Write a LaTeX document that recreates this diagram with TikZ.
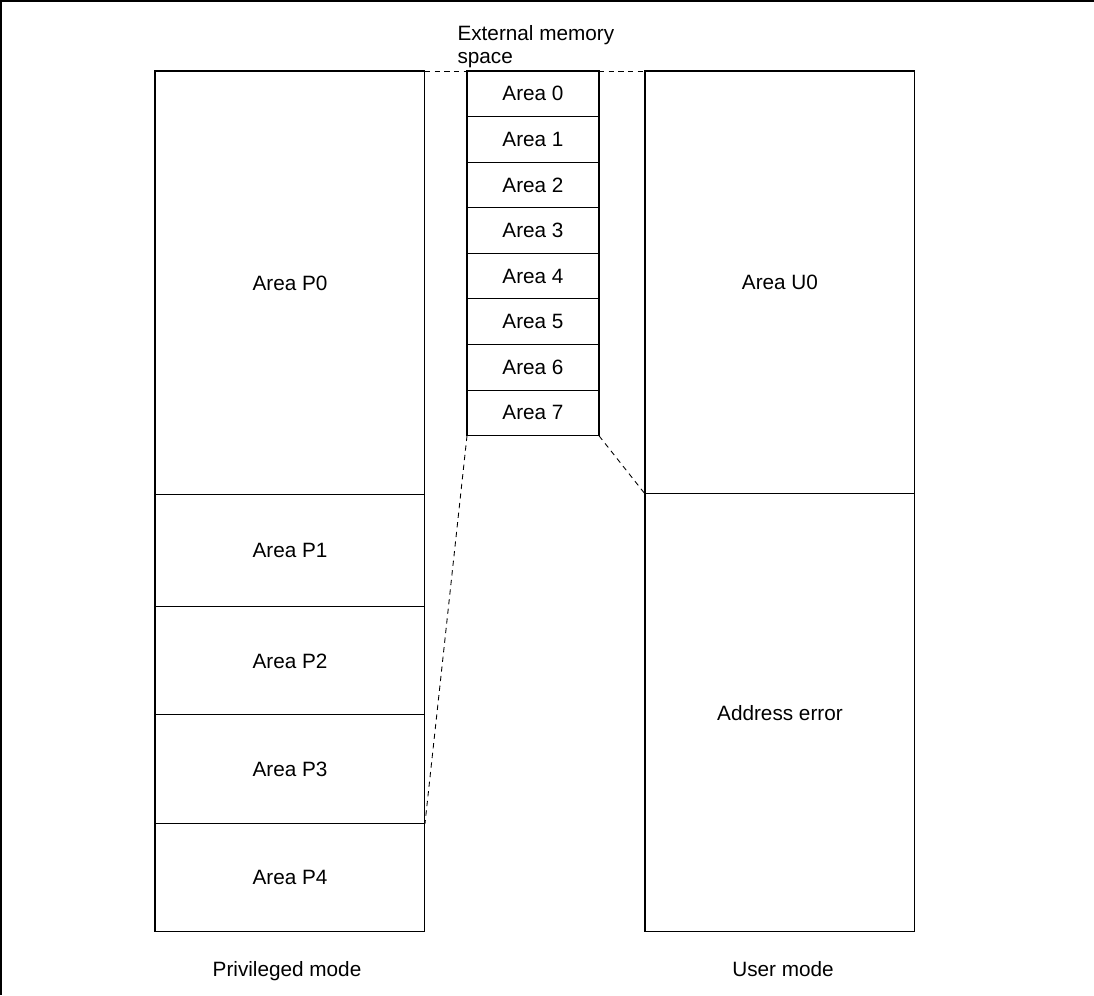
\documentclass[tikz,border=0pt]{standalone}
\usepackage{fontspec}
\setmainfont{Liberation Sans}
\usetikzlibrary{positioning}

\begin{document}
\begin{tikzpicture}[x=0.02cm,y=-0.02cm,line width=0.6pt,
    area/.style={rectangle,draw,outer sep=0pt,inner sep=0pt,font=\fontsize{11.8}{12}\selectfont},
    big/.style={area,minimum width=5.4cm},
    small/.style={area,minimum width=2.64cm,minimum height=0.912cm},
    caption/.style={font=\fontsize{11.8}{12.8}\selectfont,inner sep=0pt},
    link/.style={dash pattern=on 3pt off 2.5pt,line width=0.5pt}]

  \useasboundingbox (0,0) rectangle (1094,995);
  \draw (1,995) -- (1,1) -- (1094,1);

  % privileged mode
  \node[big,minimum height=8.48cm,anchor=north west] (p0) at (155,71) {Area P0};
  \node[big,minimum height=2.24cm] (p1) [below=0pt of p0] {Area P1};
  \node[big,minimum height=2.16cm] (p2) [below=0pt of p1] {Area P2};
  \node[big,minimum height=2.18cm] (p3) [below=0pt of p2] {Area P3};
  \node[big,minimum height=2.16cm] (p4) [below=0pt of p3] {Area P4};

  % external memory
  \node[small,anchor=north west] (a0) at (467,71) {Area 0};
  \foreach \i [remember=\i as \j (initially 0)] in {1,...,7}
    \node[small] (a\i) [below=0pt of a\j] {Area \i};

  % user mode
  \node[big,minimum height=8.46cm,anchor=north west] (u0) at (645,71) {Area U0};
  \node[big,minimum height=8.76cm] (err) [below=0pt of u0] {Address error};

  \draw[link] (p0.north east) -- (a0.north west);
  \draw[link] (a0.north east) -- (u0.north west);
  \draw[link] (a7.south west) -- (p3.south east);
  \draw[link] (a7.south east) -- (u0.south west);

  \node[caption,anchor=north west,align=left] (ext) at (457,25) {External memory\\space};
  \node[caption,anchor=base] (priv) at (287,976) {Privileged mode};
  \node[caption,anchor=base] (user) at (783,976) {User mode};

\end{tikzpicture}
\end{document}
